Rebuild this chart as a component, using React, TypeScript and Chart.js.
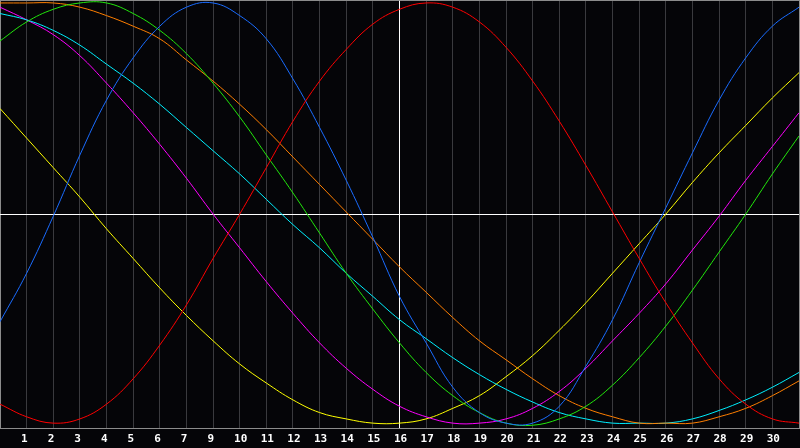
import React, { useEffect, useRef } from 'react';
import { Chart, registerables } from 'chart.js';

Chart.register(...registerables);

// Gridline index (day position) 0..30
const days = [0, 1, 2, 3, 4, 5, 6, 7, 8, 9, 10, 11, 12, 13, 14, 15, 16, 17, 18, 19, 20, 21, 22, 23, 24, 25, 26, 27, 28, 29, 30];

// Tick labels under each gridline (as printed in the reference; "8" is absent)
const dayLabels = ['', '1', '2', '3', '4', '5', '6', '7', '9', '10', '11', '12', '13', '14', '15', '16', '17', '18', '19', '20', '21', '22', '23', '24', '25', '26', '27', '28', '29', '30', ''];

// Index of the highlighted "today" gridline
const todayIndex = 15;

// Series values (percent, -100..100), read at each gridline
const redValues = [-90, -96, -99, -97, -90, -78, -62, -43, -21, 0, 22, 44, 63, 78, 90, 97, 100, 98, 91, 79, 63, 44, 23, 1, -21, -42, -61, -78, -90, -97, -99];
const blueValues = [-51, -28, -1, 28, 54, 74, 89, 98, 100, 94, 83, 64, 41, 16, -11, -39, -61, -82, -94, -99, -99, -91, -72, -50, -23, 3, 29, 54, 74, 89, 98];
const greenValues = [82, 91, 97, 100, 100, 95, 87, 76, 62, 46, 28, 10, -9, -28, -45, -61, -75, -86, -94, -99, -100, -97, -91, -81, -68, -53, -36, -18, 0, 19, 37];
const orangeValues = [100, 100, 100, 98, 94, 89, 83, 73, 63, 52, 40, 27, 14, 1, -12, -25, -37, -49, -60, -69, -78, -86, -92, -96, -99, -99, -99, -96, -92, -86, -79];
const cyanValues = [95, 92, 87, 80, 71, 62, 52, 41, 30, 19, 7, -5, -16, -28, -39, -50, -59, -68, -76, -83, -89, -94, -97, -99, -99, -99, -97, -93, -88, -82, -75];
const magentaValues = [98, 92, 85, 75, 62, 48, 33, 17, 0, -16, -32, -47, -61, -73, -83, -91, -96, -99, -99, -97, -92, -84, -73, -60, -47, -33, -17, -1, 16, 32, 48];
const yellowValues = [50, 36, 22, 8, -7, -21, -35, -48, -60, -71, -80, -88, -94, -97, -99, -99, -97, -92, -86, -77, -67, -55, -42, -28, -14, 0, 15, 29, 42, 55, 67];

const Y_LIMIT = 101.4;

const seriesList = [
  { name: 'Red', values: redValues, color: '#ff0000' },
  { name: 'Blue', values: blueValues, color: '#1a6cff' },
  { name: 'Green', values: greenValues, color: '#22e80c' },
  { name: 'Orange', values: orangeValues, color: '#ff7f00' },
  { name: 'Cyan', values: cyanValues, color: '#00f0ff' },
  { name: 'Magenta', values: magentaValues, color: '#ff00ff' },
  { name: 'Yellow', values: yellowValues, color: '#ffff00' },
];

export default function App() {
  const canvasRef = useRef<HTMLCanvasElement | null>(null);

  useEffect(() => {
    document.body.style.margin = '0';
    document.body.style.background = '#050508';
    const canvas = canvasRef.current;
    if (!canvas) return;

    const chart = new Chart(canvas, {
      type: 'line',
      data: {
        datasets: seriesList.map((s) => ({
          label: s.name,
          data: days.map((d, i) => ({ x: d, y: s.values[i] })),
          borderColor: s.color,
          backgroundColor: s.color,
          borderWidth: 1,
          pointRadius: 0,
          pointHoverRadius: 0,
          pointHitRadius: 0,
          fill: false,
          tension: 0.4,
        })),
      },
      options: {
        animation: false,
        responsive: false,
        devicePixelRatio: 1,
        layout: { autoPadding: false, padding: { left: 0, right: 1, top: 0, bottom: -1.8 } },
        plugins: {
          legend: { display: false },
          tooltip: { enabled: false },
        },
        scales: {
          x: {
            type: 'linear',
            min: 0,
            max: 30,
            afterBuildTicks: (axis: any) => {
              axis.ticks = days.map((d) => ({ value: d }));
            },
            ticks: {
              autoSkip: false,
              maxRotation: 0,
              minRotation: 0,
              padding: 0,
              labelOffset: 1,
              color: '#ffffff',
              font: { family: 'DejaVu Sans Mono', size: 11, weight: 'bold', lineHeight: 1.964 },
              callback: (value: any) => {
                const s = dayLabels[Number(value)] ?? '';
                return s.length === 1 ? s + ' ' : s;
              },
            },
            grid: {
              drawTicks: false,
              lineWidth: 1,
              color: (ctx: any) => {
                const v = ctx.tick ? ctx.tick.value : -1;
                if (v === todayIndex) return '#ffffff';
                if (v === days[0] || v === days[days.length - 1]) return '#8c8c8c';
                return '#3a3a3e';
              },
            },
            border: { display: true, color: '#8c8c8c', width: 1 },
          },
          y: {
            min: -Y_LIMIT,
            max: Y_LIMIT,
            afterBuildTicks: (axis: any) => {
              axis.ticks = [{ value: -Y_LIMIT }, { value: 0 }, { value: Y_LIMIT }];
            },
            ticks: { display: false },
            grid: {
              drawTicks: false,
              lineWidth: 1,
              color: (ctx: any) => (ctx.tick && ctx.tick.value === 0 ? '#ffffff' : '#8c8c8c'),
            },
            border: { display: false },
          },
        },
      },
    });

    return () => {
      chart.destroy();
    };
  }, []);

  return (
    <div style={{ width: 800, height: 448, background: '#050508' }}>
      <canvas ref={canvasRef} width={800} height={448} style={{ display: 'block', width: 800, height: 448 }} />
    </div>
  );
}
